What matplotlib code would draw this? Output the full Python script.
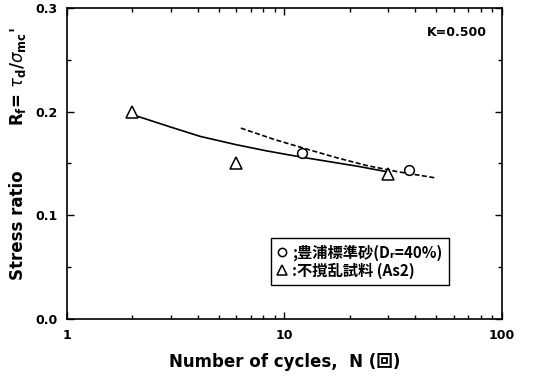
import numpy as np
import matplotlib.pyplot as plt
from matplotlib.ticker import FixedLocator, FormatStrFormatter, NullFormatter, LogLocator

plt.rcParams['font.family'] = ['DejaVu Sans', 'Noto Sans CJK JP']
plt.rcParams['mathtext.fontset'] = 'dejavusans'

# measured points
tri_n = [2.0, 6.0, 30.0]
tri_r = [0.200, 0.150, 0.140]
circ_n = [12.1, 37.4]
circ_r = [0.160, 0.144]

# fitted curves
solid_n = [2.0, 3.0, 4.1, 6.0, 8.3, 12.0, 16.8, 22.0, 29.4]
solid_r = [0.197, 0.185, 0.176, 0.168, 0.162, 0.156, 0.151, 0.147, 0.142]
dash_n = [6.3, 9.0, 12.1, 17.0, 23.8, 33.0, 49.4]
dash_r = [0.184, 0.173, 0.165, 0.156, 0.148, 0.142, 0.136]

fig = plt.figure(figsize=(5.45, 3.76), dpi=100)
ax = fig.add_axes([0.123, 0.152, 0.798, 0.827])

ax.plot(solid_n, solid_r, color='black', lw=1.2)
ax.plot(dash_n, dash_r, color='black', lw=1.2, ls=(0, (3, 1.5)))
h1, = ax.plot(circ_n, circ_r, ls='none', marker='o', ms=7, mfc='white',
              mec='black', mew=1.1)
h2, = ax.plot(tri_n, tri_r, ls='none', marker='^', ms=8, mfc='white',
              mec='black', mew=1.1)

ax.set_xscale('log')
ax.set_xlim(1, 100)
ax.set_ylim(0, 0.3)
ax.set_xticks([1, 10, 100])
ax.set_xticklabels(['1', '10', '100'])
ax.xaxis.set_minor_locator(LogLocator(base=10, subs=np.arange(2, 10)))
ax.xaxis.set_minor_formatter(NullFormatter())
ax.yaxis.set_major_locator(FixedLocator([0.0, 0.1, 0.2, 0.3]))
ax.yaxis.set_major_formatter(FormatStrFormatter('%.1f'))
ax.yaxis.set_minor_locator(FixedLocator([0.05, 0.15, 0.25]))
ax.tick_params(which='both', direction='in', top=True, right=True, width=1)
ax.tick_params(which='major', length=5, labelsize=9, pad=7)
ax.tick_params(which='minor', length=3)
for lab in ax.get_xticklabels() + ax.get_yticklabels():
    lab.set_fontweight('bold')
for s in ax.spines.values():
    s.set_linewidth(1.2)

ax.text(0.965, 0.92, 'K=0.500', transform=ax.transAxes, ha='right', va='center',
        fontsize=9, fontweight='bold')

ax.set_xlabel('Number of cycles,  N (回)', fontsize=12, fontweight='bold',
              labelpad=8)
fig.text(0.033, 0.40, 'Stress ratio', rotation=90, ha='center', va='center',
         fontsize=12, fontweight='bold')
fig.text(0.033, 0.795, r"R$_\mathregular{f}$= $\tau_\mathregular{d}$/$\sigma_\mathregular{mc}$'",
         rotation=90, ha='center', va='center', fontsize=12, fontweight='bold')

leg = ax.legend([h1, h2], [';豊浦標準砂(Dᵣ=40%)', ':不撹乱試料 (As2)'],
                loc='lower left', bbox_to_anchor=(0.469, 0.109), borderaxespad=0,
                fancybox=False, framealpha=1, edgecolor='black',
                handlelength=0.7, handletextpad=0.3, borderpad=0.4,
                labelspacing=0.12, markerscale=0.85,
                prop={'size': 11, 'weight': 'bold',
                      'family': ['Noto Sans CJK JP', 'DejaVu Sans']})
leg.get_frame().set_linewidth(1.0)

fig.savefig('out.png', dpi=100)
